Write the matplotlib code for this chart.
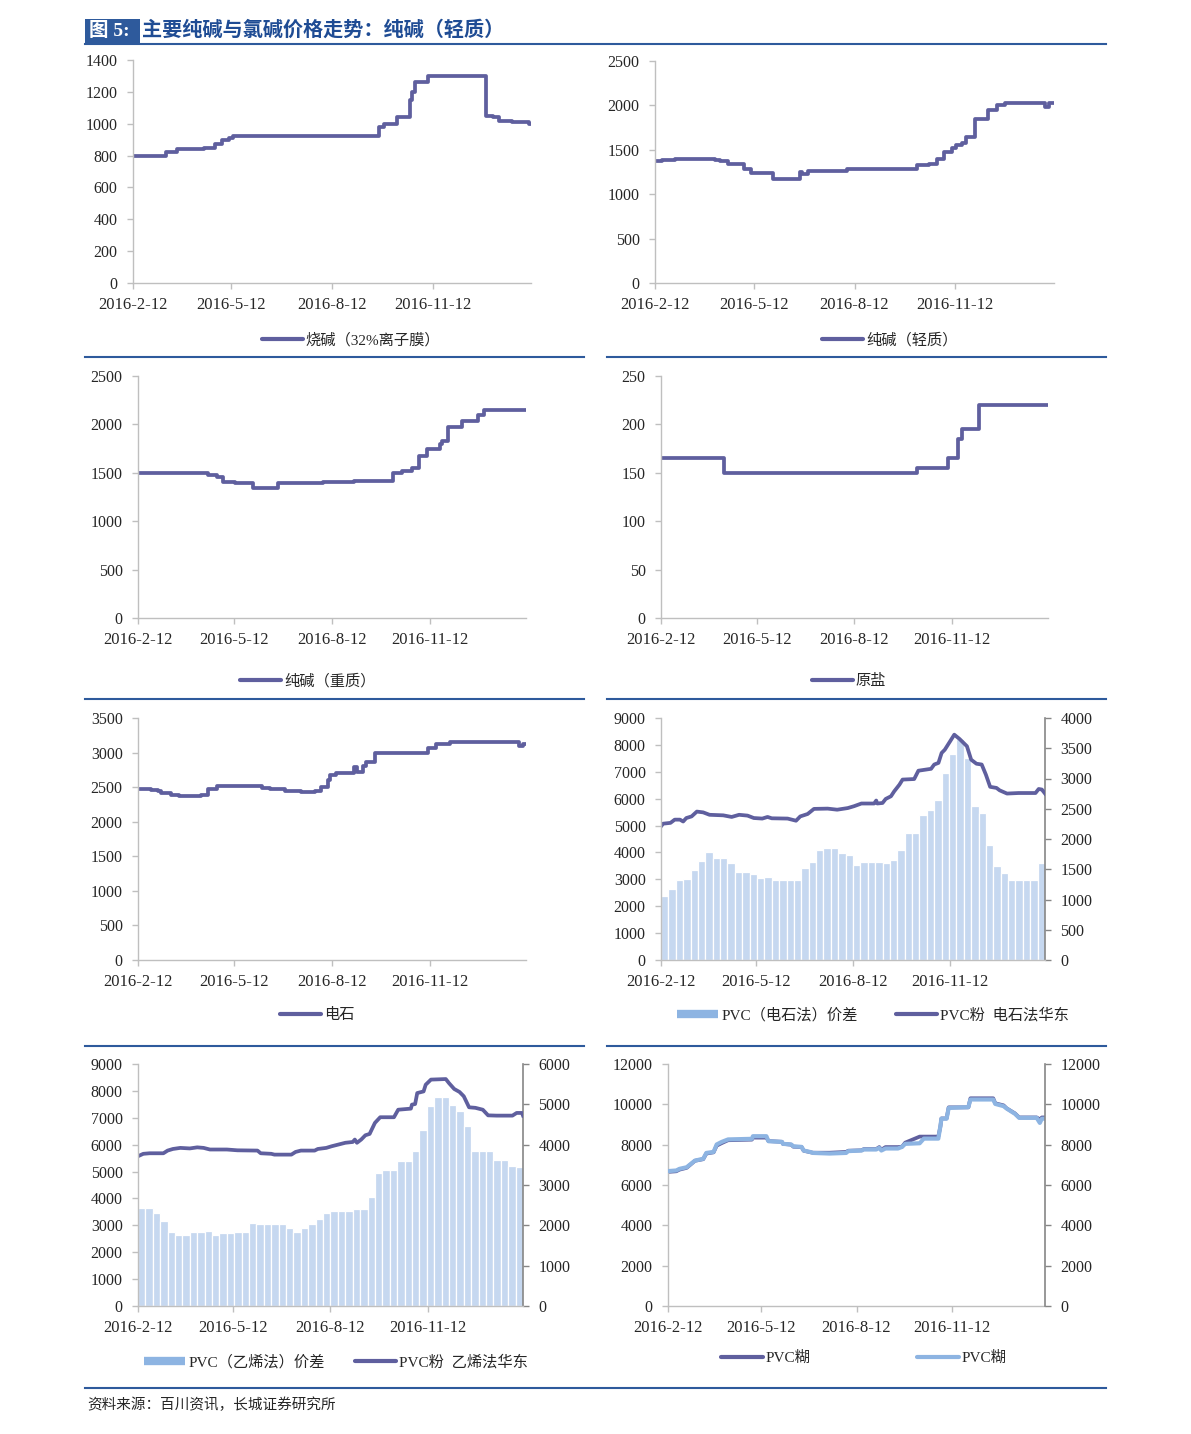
import matplotlib
matplotlib.use('Agg')
import matplotlib.pyplot as plt
import matplotlib.dates as mdates
from matplotlib.lines import Line2D
from matplotlib.patches import Rectangle
import numpy as np
import pandas as pd

plt.rcParams['font.family'] = ['Liberation Serif', 'Noto Sans CJK SC']
plt.rcParams['axes.unicode_minus'] = False

# ==================== 数据 ====================
tick_dates = ['2016-02-12', '2016-05-12', '2016-08-12', '2016-11-12']
tick_labels = ['2016-2-12', '2016-5-12', '2016-8-12', '2016-11-12']

# 烧碱（32%离子膜）：价格变动点
caustic_dates = ['2016-02-12', '2016-03-13', '2016-03-23', '2016-04-17', '2016-04-27', '2016-05-03',
                 '2016-05-10', '2016-05-13', '2016-09-24', '2016-09-29', '2016-10-10', '2016-10-22',
                 '2016-10-24', '2016-10-27', '2016-11-08', '2016-12-31', '2017-01-06', '2017-01-12',
                 '2017-01-24', '2017-02-08', '2017-02-10']
caustic_vals = [800, 820, 840, 850, 870, 900, 910, 925, 980, 1000, 1040, 1150,
                1200, 1260, 1300, 1050, 1040, 1020, 1010, 1000, 1000]

# 纯碱（轻质）
soda_light_dates = ['2016-02-12', '2016-02-18', '2016-03-01', '2016-04-07', '2016-04-11', '2016-04-19',
                    '2016-05-03', '2016-05-10', '2016-05-30', '2016-06-23', '2016-06-25', '2016-07-01',
                    '2016-08-05', '2016-10-08', '2016-10-19', '2016-10-26', '2016-11-02', '2016-11-09',
                    '2016-11-13', '2016-11-18', '2016-11-22', '2016-11-30', '2016-12-12', '2016-12-20',
                    '2016-12-27', '2017-02-02', '2017-02-05', '2017-02-10']
soda_light_vals = [1370, 1390, 1400, 1390, 1370, 1340, 1280, 1240, 1175, 1250, 1230, 1265,
                   1280, 1330, 1340, 1400, 1470, 1520, 1550, 1580, 1640, 1850, 1950, 2000,
                   2030, 1980, 2030, 2030]

# 纯碱（重质）
soda_heavy_dates = ['2016-02-12', '2016-04-18', '2016-04-26', '2016-05-02', '2016-05-13', '2016-05-30',
                    '2016-06-22', '2016-08-04', '2016-09-02', '2016-10-08', '2016-10-17', '2016-10-26',
                    '2016-11-02', '2016-11-09', '2016-11-21', '2016-11-23', '2016-11-29', '2016-12-12',
                    '2016-12-27', '2017-01-02', '2017-02-10']
soda_heavy_vals = [1500, 1480, 1460, 1400, 1390, 1340, 1390, 1400, 1420, 1500, 1520, 1550,
                   1670, 1750, 1800, 1830, 1970, 2030, 2100, 2150, 2150]

# 原盐
salt_dates = ['2016-02-12', '2016-04-11', '2016-10-10', '2016-11-08', '2016-11-17', '2016-11-21',
              '2016-12-07', '2017-02-10']
salt_vals = [165, 150, 155, 165, 185, 195, 220, 220]

# 电石
carbide_dates = ['2016-02-12', '2016-02-24', '2016-03-02', '2016-03-05', '2016-03-14', '2016-03-21',
                 '2016-04-11', '2016-04-18', '2016-04-26', '2016-06-07', '2016-06-15', '2016-06-29',
                 '2016-07-14', '2016-07-27', '2016-08-02', '2016-08-08', '2016-08-10', '2016-08-16',
                 '2016-09-02', '2016-09-04', '2016-09-10', '2016-09-13', '2016-09-21', '2016-11-10',
                 '2016-11-18', '2016-12-01', '2017-02-03', '2017-02-07', '2017-02-10']
carbide_vals = [2480, 2460, 2440, 2420, 2390, 2370, 2390, 2480, 2510, 2490, 2470, 2450,
                2430, 2450, 2500, 2600, 2670, 2700, 2790, 2720, 2800, 2860, 3000, 3060,
                3120, 3160, 3090, 3130, 3130]

# 以下为相对 2016-02-12 的天数
start_date = '2016-02-12'

# PVC粉 电石法华东
pvc_e_days = [0, 2, 9, 13, 18, 21, 24, 29, 34, 40, 46, 59, 67, 74, 82, 88, 96, 101, 105, 120,
              128, 132, 139, 145, 158, 167, 177, 183, 190, 202, 204, 205, 210, 213, 218, 221,
              226, 229, 240, 244, 256, 259, 263, 266, 269, 274, 278, 283, 290, 294, 299, 304,
              308, 312, 318, 321, 328, 339, 355, 358, 361, 364]
pvc_e_vals = [4970, 5070, 5100, 5220, 5220, 5150, 5280, 5340, 5520, 5490, 5400, 5380, 5320, 5400,
              5370, 5280, 5260, 5320, 5270, 5260, 5180, 5340, 5430, 5620, 5630, 5590, 5650, 5720,
              5820, 5820, 5930, 5820, 5840, 5990, 6090, 6270, 6520, 6710, 6730, 7040, 7110, 7270,
              7330, 7700, 7820, 8130, 8380, 8220, 7950, 7450, 7300, 7270, 6890, 6440, 6400, 6310,
              6190, 6210, 6210, 6360, 6340, 6190]
# PVC（电石法）价差，按周
spread_e_weekly = [1050, 1170, 1330, 1340, 1480, 1630, 1780, 1690, 1680, 1600, 1460, 1460, 1420,
                   1360, 1380, 1330, 1330, 1330, 1330, 1520, 1620, 1810, 1850, 1850, 1770, 1730,
                   1570, 1620, 1620, 1620, 1600, 1660, 1820, 2100, 2100, 2400, 2480, 2650, 3090,
                   3400, 3650, 3340, 2540, 2430, 1900, 1550, 1440, 1330, 1330, 1330, 1330, 1600]

# PVC粉 乙烯法华东
pvc_y_days = [0, 5, 11, 24, 28, 33, 40, 49, 56, 62, 68, 84, 94, 113, 116, 126, 129, 145, 149, 154,
              167, 170, 178, 183, 189, 196, 203, 205, 207, 211, 215, 219, 224, 229, 242, 246, 258,
              259, 262, 264, 270, 272, 277, 291, 294, 299, 304, 308, 313, 319, 326, 331, 339, 354,
              358, 363, 364]
pvc_y_vals = [5570, 5660, 5680, 5680, 5780, 5840, 5880, 5860, 5900, 5880, 5820, 5820, 5790, 5780,
              5680, 5660, 5630, 5630, 5730, 5780, 5780, 5840, 5880, 5940, 6000, 6070, 6100, 6190,
              6070, 6190, 6350, 6400, 6810, 7020, 7020, 7300, 7340, 7490, 7510, 7920, 7980, 8230,
              8420, 8440, 8290, 8070, 7960, 7800, 7390, 7370, 7300, 7090, 7080, 7080, 7180, 7180,
              7080]
# PVC（乙烯法）价差，按周
spread_y_weekly = [2435, 2435, 2294, 2100, 1840, 1760, 1760, 1840, 1840, 1870, 1760, 1816, 1816,
                   1840, 1840, 2063, 2022, 2022, 2022, 2022, 1939, 1832, 1939, 2022, 2146, 2294,
                   2352, 2352, 2352, 2393, 2393, 2699, 3301, 3384, 3384, 3590, 3590, 3838, 4374,
                   4952, 5175, 5175, 4993, 4828, 4457, 3854, 3854, 3838, 3631, 3631, 3466, 3441]

# PVC糊（两条）
paste_days = [0, 8, 11, 18, 26, 34, 37, 44, 47, 52, 58, 81, 82, 95, 97, 110, 111, 119, 121, 129,
              131, 137, 140, 156, 172, 174, 187, 189, 201, 204, 206, 210, 222, 226, 229, 243, 247,
              261, 263, 264, 269, 271, 290, 292, 314, 316, 324, 327, 335, 339, 356, 359, 361, 364]
paste_a_vals = [6650, 6680, 6760, 6850, 7200, 7280, 7560, 7620, 7950, 8080, 8220, 8250, 8350, 8350,
                8180, 8140, 8040, 8000, 7900, 7880, 7700, 7630, 7600, 7600, 7640, 7700, 7720, 7780,
                7780, 7880, 7750, 7880, 7880, 7900, 8100, 8400, 8400, 8400, 8900, 9300, 9300, 9850,
                9850, 10300, 10300, 10050, 9950, 9800, 9550, 9350, 9350, 9250, 9350, 9350]
paste_b_vals = [6690, 6720, 6800, 6880, 7210, 7300, 7590, 7640, 8010, 8140, 8260, 8290, 8420, 8420,
                8170, 8140, 8040, 8010, 7920, 7890, 7710, 7640, 7590, 7560, 7590, 7680, 7710, 7760,
                7760, 7840, 7710, 7810, 7810, 7890, 8040, 8070, 8300, 8300, 8920, 9290, 9290, 9820,
                9860, 10240, 10240, 10020, 9910, 9790, 9530, 9330, 9330, 9080, 9290, 9290]

# ==================== 画图 ====================
W, H = 1191, 1434
fig = plt.figure(figsize=(W / 100, H / 100), dpi=100)
fig.patch.set_facecolor('white')

LINE = '#5F5F9E'
LIGHT = '#8DB4E2'
BAR = '#C6D8F0'
AXC = '#BFBFBF'
RAXC = '#868686'
TXT = '#262626'
BLUE = '#2E5A9C'

base = mdates.date2num(pd.Timestamp(start_date))
x_end = base + 364
tick_x = mdates.date2num(pd.to_datetime(tick_dates))


def to_num(dates):
    return mdates.date2num(pd.to_datetime(dates))


def rect(l, t, r, b):
    return [l / W, 1 - b / H, (r - l) / W, (b - t) / H]


def style(ax, ymax, ystep):
    ax.set_xlim(base, x_end)
    ax.set_ylim(0, ymax)
    ax.set_yticks(np.arange(0, ymax + 1, ystep))
    ax.set_xticks(tick_x)
    ax.set_xticklabels(tick_labels)
    for s in ['top', 'right']:
        ax.spines[s].set_visible(False)
    for s in ['left', 'bottom']:
        ax.spines[s].set_color(AXC)
        ax.spines[s].set_linewidth(1)
    ax.tick_params(axis='both', colors=AXC, labelcolor=TXT, length=4, width=1)
    ax.tick_params(axis='y', pad=7, labelsize=11.5)
    ax.tick_params(axis='x', pad=6, labelsize=12)


def style_right(ax2, ymax, ystep):
    ax2.set_ylim(0, ymax)
    ax2.set_yticks(np.arange(0, ymax + 1, ystep))
    for s in ['top', 'left', 'bottom']:
        ax2.spines[s].set_visible(False)
    ax2.spines['right'].set_color(RAXC)
    ax2.spines['right'].set_linewidth(1.2)
    ax2.tick_params(axis='y', colors=RAXC, labelcolor=TXT, labelsize=11.5, length=4, width=1, pad=7)


def legend(handles, labels, cx, cy, colsp=2.0):
    fig.legend(handles, labels, loc='center', bbox_to_anchor=(cx / W, 1 - cy / H),
               ncol=len(handles), frameon=False, fontsize=11, handlelength=2.7,
               handletextpad=0.2, columnspacing=colsp, labelcolor=TXT)


def line_handle(color):
    return Line2D([0], [0], color=color, lw=3, solid_capstyle='round')


def step_panel(box, dates, vals, ymax, ystep, label, lx, ly):
    ax = fig.add_axes(rect(*box))
    ax.step(to_num(dates), vals, where='post', color=LINE, lw=2.7, solid_joinstyle='round')
    style(ax, ymax, ystep)
    legend([line_handle(LINE)], [label], lx, ly)
    return ax


step_panel((133, 60, 531, 283), caustic_dates, caustic_vals, 1400, 200, '烧碱（32%离子膜）', 351, 340)
step_panel((655, 61, 1054, 283), soda_light_dates, soda_light_vals, 2500, 500, '纯碱（轻质）', 890, 340)
step_panel((138, 376, 526, 618), soda_heavy_dates, soda_heavy_vals, 2500, 500, '纯碱（重质）', 308, 681)
step_panel((661, 376, 1048, 618), salt_dates, salt_vals, 250, 50, '原盐', 849, 681)
step_panel((138, 718, 526, 960), carbide_dates, carbide_vals, 3500, 500, '电石', 317, 1015)

bar_h = Line2D([0], [0], color=LIGHT, lw=6, solid_capstyle='butt')

# PVC 电石法
week_x = base + np.arange(len(spread_e_weekly)) * 7
ax = fig.add_axes(rect(661, 718, 1045, 960))
ax2 = ax.twinx()
ax2.bar(week_x, spread_e_weekly, width=7, align='edge', color=BAR, edgecolor='white', linewidth=0.9)
ax.plot(base + np.array(pvc_e_days), pvc_e_vals, color=LINE, lw=2.7, solid_joinstyle='round')
ax.set_zorder(ax2.get_zorder() + 1)
ax.patch.set_visible(False)
style(ax, 9000, 1000)
style_right(ax2, 4000, 500)
legend([bar_h, line_handle(LINE)], ['PVC（电石法）价差', 'PVC粉  电石法华东'], 873, 1015, colsp=2.5)

# PVC 乙烯法
week_x = base + np.arange(len(spread_y_weekly)) * 7
ax = fig.add_axes(rect(138, 1064, 523, 1306))
ax2 = ax.twinx()
ax2.bar(week_x, spread_y_weekly, width=7, align='edge', color=BAR, edgecolor='white', linewidth=0.9)
ax.plot(base + np.array(pvc_y_days), pvc_y_vals, color=LINE, lw=2.7, solid_joinstyle='round')
ax.set_zorder(ax2.get_zorder() + 1)
ax.patch.set_visible(False)
style(ax, 9000, 1000)
style_right(ax2, 6000, 1000)
legend([bar_h, line_handle(LINE)], ['PVC（乙烯法）价差', 'PVC粉  乙烯法华东'], 336, 1362, colsp=2.0)

# PVC糊
ax = fig.add_axes(rect(668, 1064, 1045, 1306))
ax2 = ax.twinx()
ax.plot(base + np.array(paste_days), paste_a_vals, color=LINE, lw=2.7, solid_joinstyle='round')
ax2.plot(base + np.array(paste_days), paste_b_vals, color=LIGHT, lw=3.0, solid_joinstyle='round')
style(ax, 12000, 2000)
style_right(ax2, 12000, 2000)
legend([line_handle(LINE), line_handle(LIGHT)], ['PVC糊', 'PVC糊'], 864, 1358, colsp=7.0)

# ==================== 标题、分隔线、来源 ====================
fig.add_artist(Rectangle((85 / W, 1 - 43 / H), 55 / W, 24 / H, transform=fig.transFigure,
                         facecolor=BLUE, edgecolor='none'))
fig.text(89 / W, 1 - 31 / H, '图 5:', color='white', fontsize=14, fontweight='bold', va='center')
fig.text(142 / W, 1 - 31 / H, '主要纯碱与氯碱价格走势：纯碱（轻质）', color='#1F4C94',
         fontsize=14.5, fontweight='bold', va='center')


def hline(x0, x1, y, lw=1.5):
    fig.add_artist(Line2D([x0 / W, x1 / W], [1 - y / H, 1 - y / H], color=BLUE, lw=lw,
                          transform=fig.transFigure))


hline(85, 1106, 44)
for y in (357, 699, 1046):
    hline(85, 584, y)
    hline(607, 1106, y)
hline(85, 1106, 1388)

fig.text(87 / W, 1 - 1405 / H, '资料来源：百川资讯，长城证券研究所', fontsize=10.5, style='italic',
         color=TXT, va='center')

plt.savefig('out.png', dpi=100, facecolor='white')
